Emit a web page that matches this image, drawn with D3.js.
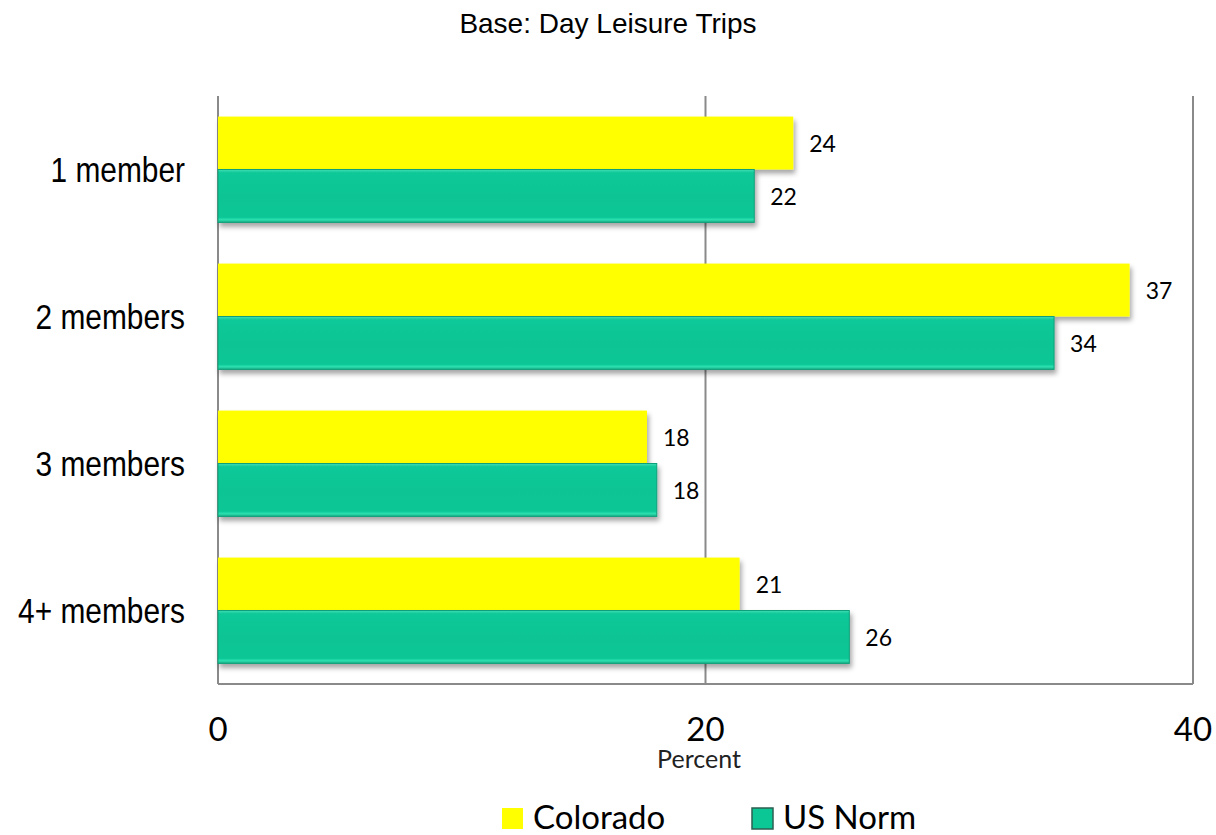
<!DOCTYPE html>
<html>
<head>
<meta charset="utf-8">
<script src="https://cdn.jsdelivr.net/npm/d3@7"></script>
<style>
  body { margin: 0; background: #fff; }
  svg { display: block; }
</style>
</head>
<body>
<svg id="chart" width="1216" height="835"></svg>
<script>
const categories = ['1 member', '2 members', '3 members', '4+ members'];
const seriesNames = ['Colorado', 'US Norm'];
const colorado = [23.6, 37.4, 17.6, 21.4];
const usNorm = [22.0, 34.3, 18.0, 25.9];
const coloradoLabels = ['24', '37', '18', '21'];
const usNormLabels = ['22', '34', '18', '26'];
const xTicks = [0, 20, 40];

const svg = d3.select('#chart');
const margin = { top: 96, right: 23, bottom: 151, left: 218 };
const width = 1216 - margin.left - margin.right;
const height = 835 - margin.top - margin.bottom;

const defs = svg.append('defs');
const shadow = defs.append('filter').attr('id', 'shadow')
  .attr('x', '-5%').attr('y', '-20%').attr('width', '110%').attr('height', '160%');
shadow.append('feDropShadow')
  .attr('dx', 2).attr('dy', 4).attr('stdDeviation', 2.5)
  .attr('flood-color', '#000').attr('flood-opacity', 0.35);

const teal = defs.append('linearGradient').attr('id', 'teal')
  .attr('x1', 0).attr('y1', 0).attr('x2', 0).attr('y2', 1);
[[0, '#3fe0b4'], [0.06, '#0fc899'], [0.5, '#0ac594'], [0.9, '#0bc696'], [0.95, '#2ee0b0'], [1, '#18a880']]
  .forEach(([o, c]) => teal.append('stop').attr('offset', o).attr('stop-color', c));

const uiFont = 'Lato, "Open Sans", sans-serif';

svg.append('text')
  .attr('x', 608).attr('y', 33)
  .attr('text-anchor', 'middle')
  .style('font-family', '"Liberation Sans", Arial, sans-serif')
  .style('font-size', '28px')
  .text('Base: Day Leisure Trips');

const g = svg.append('g').attr('transform', `translate(${margin.left},${margin.top})`);

const x = d3.scaleLinear().domain([0, 40]).range([0, width]);
const y = d3.scaleBand().domain(categories).range([0, height]).paddingInner(0.28).paddingOuter(0.14);
const sub = d3.scaleBand().domain(seriesNames).range([0, y.bandwidth()]);

// gridlines and frame
g.selectAll('.grid').data(xTicks).join('line')
  .attr('x1', d => x(d)).attr('x2', d => x(d))
  .attr('y1', 0).attr('y2', height)
  .attr('stroke', '#8a8a8a').attr('stroke-width', 2);
g.append('line')
  .attr('x1', 0).attr('x2', width)
  .attr('y1', height).attr('y2', height)
  .attr('stroke', '#8a8a8a').attr('stroke-width', 2);

const rows = categories.map((c, i) => ({
  cat: c,
  vals: [
    { s: 'Colorado', v: colorado[i], label: coloradoLabels[i] },
    { s: 'US Norm', v: usNorm[i], label: usNormLabels[i] }
  ]
}));

const grp = g.selectAll('.cat').data(rows).join('g')
  .attr('transform', d => `translate(0,${y(d.cat)})`);

grp.selectAll('rect').data(d => d.vals).join('rect')
  .attr('x', 0)
  .attr('y', d => sub(d.s))
  .attr('width', d => x(d.v))
  .attr('height', sub.bandwidth())
  .attr('fill', d => d.s === 'Colorado' ? '#ffff00' : 'url(#teal)')
  .attr('stroke', d => d.s === 'Colorado' ? 'none' : '#0fa07a')
  .attr('stroke-width', 1)
  .attr('filter', 'url(#shadow)');

grp.selectAll('.lbl').data(d => d.vals).join('text')
  .attr('x', d => x(d.v) + 16)
  .attr('y', d => sub(d.s) + sub.bandwidth() / 2 + 9)
  .style('font-family', uiFont)
  .style('font-size', '23px')
  .text(d => d.label);

// category labels, condensed like Arial Narrow
svg.append('g').selectAll('text').data(categories).join('text')
  .attr('transform', d => `translate(185,${margin.top + y(d) + y.bandwidth() / 2 + 12}) scale(0.83,1)`)
  .attr('text-anchor', 'end')
  .style('font-family', '"Liberation Sans", Arial, sans-serif')
  .style('font-size', '36px')
  .text(d => d);

// x tick labels
svg.append('g').selectAll('text').data(xTicks).join('text')
  .attr('x', d => margin.left + x(d))
  .attr('y', 741)
  .attr('text-anchor', 'middle')
  .style('font-family', uiFont)
  .style('font-size', '33px')
  .text(d => d);

svg.append('text')
  .attr('x', 699).attr('y', 768)
  .attr('text-anchor', 'middle')
  .style('font-family', uiFont)
  .style('font-size', '25px')
  .style('fill', '#222')
  .text('Percent');

// legend
const legendX = [502, 752];
const leg = svg.append('g').selectAll('g').data(seriesNames).join('g')
  .attr('transform', (d, i) => `translate(${legendX[i]},808)`);
leg.append('rect')
  .attr('width', 21).attr('height', 21)
  .attr('fill', (d, i) => i === 0 ? '#ffff00' : '#0bc796')
  .attr('stroke', (d, i) => i === 0 ? 'none' : '#2d5f52')
  .attr('stroke-width', 1.5);
leg.append('text')
  .attr('x', 31).attr('y', 21)
  .style('font-family', uiFont)
  .style('font-size', '33px')
  .text(d => d);
</script>
</body>
</html>
